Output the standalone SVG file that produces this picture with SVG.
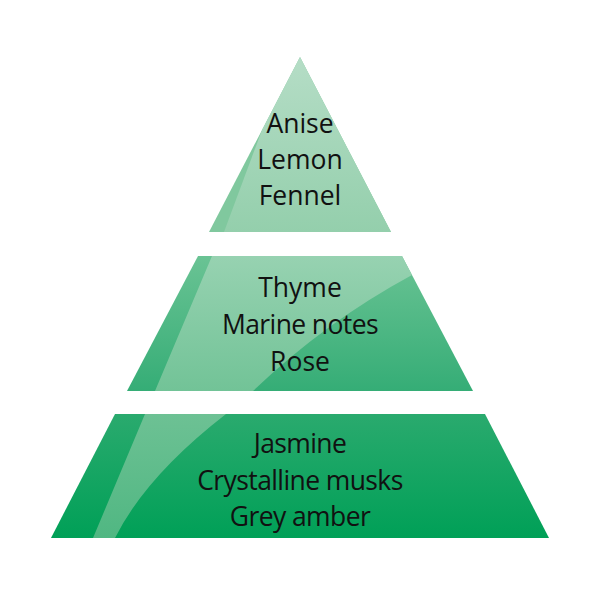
<svg xmlns="http://www.w3.org/2000/svg" width="600" height="600" viewBox="0 0 600 600">
  <defs>
    <linearGradient id="gTopLight" x1="0" y1="57" x2="0" y2="232" gradientUnits="userSpaceOnUse">
      <stop offset="0" stop-color="#b5ddc6"/>
      <stop offset="1" stop-color="#94cfac"/>
    </linearGradient>
    <linearGradient id="gMidBase" x1="0" y1="256" x2="0" y2="391" gradientUnits="userSpaceOnUse">
      <stop offset="0" stop-color="#6ac394"/>
      <stop offset="1" stop-color="#35ad76"/>
    </linearGradient>
    <linearGradient id="gMidLight" x1="0" y1="256" x2="0" y2="391" gradientUnits="userSpaceOnUse">
      <stop offset="0" stop-color="#97d2b1"/>
      <stop offset="1" stop-color="#72c397"/>
    </linearGradient>
    <linearGradient id="gBotBase" x1="0" y1="414" x2="0" y2="538" gradientUnits="userSpaceOnUse">
      <stop offset="0" stop-color="#2aaa6e"/>
      <stop offset="1" stop-color="#00a057"/>
    </linearGradient>
    <linearGradient id="gBotLight" x1="0" y1="414" x2="0" y2="538" gradientUnits="userSpaceOnUse">
      <stop offset="0" stop-color="#6dc194"/>
      <stop offset="1" stop-color="#50b782"/>
    </linearGradient>
  </defs>
  <style>
    .label { font-family: "Open Sans", "Noto Sans", "Liberation Sans", sans-serif; font-size: 26.5px; fill: #111111; text-anchor: middle; }
    .narrow { letter-spacing: -0.6px; }
  </style>
  <rect x="0" y="0" width="600" height="600" fill="#ffffff"/>

  <g id="top-tier">
    <polygon points="300,57 391,232 209,232" fill="#80c89e"/>
    <polygon points="300,57 391,232 224,232 262,130" fill="url(#gTopLight)"/>
    <text class="label" x="300" y="133">Anise</text>
    <text class="label" x="300" y="169">Lemon</text>
    <text class="label" x="300" y="205">Fennel</text>
  </g>

  <g id="middle-tier">
    <polygon points="198,256 402,256 473,391 127,391" fill="url(#gMidBase)"/>
    <path d="M212,256 L402,256 L412,275 Q325,322 253,391 L155,391 Z" fill="url(#gMidLight)"/>
    <text class="label" x="300" y="297">Thyme</text>
    <text class="label narrow" x="300" y="334">Marine notes</text>
    <text class="label" x="300" y="371">Rose</text>
  </g>

  <g id="bottom-tier">
    <polygon points="115,414 485,414 549,538 51,538" fill="url(#gBotBase)"/>
    <path d="M145,414 L226,414 Q146,476 115,538 L93,538 Z" fill="url(#gBotLight)"/>
    <text class="label narrow" x="300" y="453">Jasmine</text>
    <text class="label narrow" x="300" y="490">Crystalline musks</text>
    <text class="label narrow" x="300" y="526">Grey amber</text>
  </g>

  <g id="connectors"></g>
</svg>
